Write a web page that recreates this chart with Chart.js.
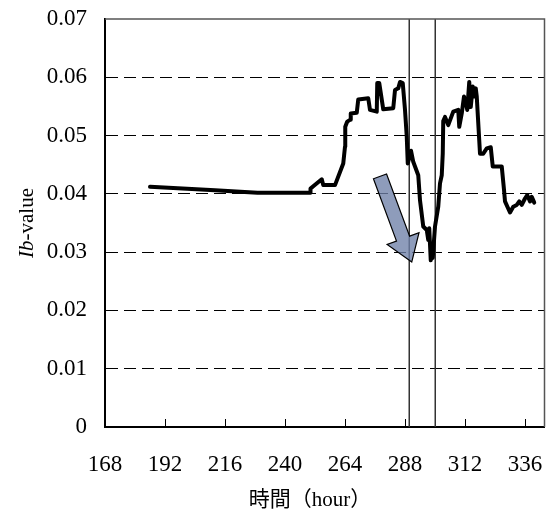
<!DOCTYPE html>
<html>
<head>
<meta charset="utf-8">
<script src="https://cdn.jsdelivr.net/npm/chart.js@4.4.0/dist/chart.umd.min.js"></script>
<style>
    body { margin: 0; background: #fff; }
    #wrap { width: 547px; height: 513px; }
</style>
</head>
<body>
<div id="wrap"><canvas id="ibChart"></canvas></div>
<script>
const hours = [
    186, 212, 229, 250, 250.2, 251.3, 254.7, 255.3, 260, 263.3,
    264, 264.1, 264.9, 266, 266.3, 268.7, 269.3, 273.3, 274, 276.7,
    276.9, 277.7, 279.3, 283.3, 284, 285.3, 286, 287.1, 288, 288.7,
    289.1, 290.4, 291.3, 293.3, 294, 295.3, 296.7, 297.3, 297.7, 298.3,
    298.7, 299.1, 300, 301.3, 302, 302.7, 303.1, 303.3, 304, 305.3,
    307.3, 309.3, 309.7, 310.7, 311.6, 312.4, 312.9, 313.7, 314.3, 315.1,
    315.7, 316.3, 316.7, 318, 319.3, 320.7, 322.3, 323.1, 326.7, 327.6,
    328, 330, 331.3, 332.7, 333.7, 334.7, 336, 336.9, 338, 338.7,
    339.7
];
const ibValues = [
    0.0412, 0.0406, 0.0402, 0.0402, 0.0409, 0.0413, 0.0425, 0.0415, 0.0415, 0.0452,
    0.0481, 0.0515, 0.0524, 0.0527, 0.0538, 0.0539, 0.0562, 0.0564, 0.0544, 0.0541,
    0.0590, 0.0590, 0.0545, 0.0547, 0.0578, 0.0581, 0.0592, 0.0590, 0.0544, 0.0498,
    0.0452, 0.0474, 0.0455, 0.0432, 0.0389, 0.0344, 0.0338, 0.0321, 0.0341, 0.0286,
    0.0309, 0.0290, 0.0344, 0.0378, 0.0418, 0.0432, 0.0469, 0.0525, 0.0532, 0.0518,
    0.0541, 0.0544, 0.0515, 0.0538, 0.0567, 0.0555, 0.0544, 0.0592, 0.0549, 0.0584,
    0.0567, 0.0581, 0.0567, 0.0469, 0.0469, 0.0478, 0.0480, 0.0447, 0.0447, 0.0407,
    0.0387, 0.0368, 0.0378, 0.0381, 0.0387, 0.0381, 0.0392, 0.0398, 0.0387, 0.0395,
    0.0385
];
const markerHours = [289.7, 300.1];
const xTickValues = [168, 192, 216, 240, 264, 288, 312, 336];
const yTickValues = [0, 0.01, 0.02, 0.03, 0.04, 0.05, 0.06, 0.07];
const yTickLabels = ["0", "0.01", "0.02", "0.03", "0.04", "0.05", "0.06", "0.07"];
const arrowStart = [278, 0.0430];
const arrowEnd = [290.7, 0.0283];

const serif = "'Liberation Serif', 'Times New Roman', 'Noto Sans CJK JP', serif";

const framePlugin = {
    id: "frame",
    afterDatasetsDraw(chart) {
        const { ctx, chartArea: a, scales: { x, y } } = chart;
        ctx.save();

        // arrow annotation
        const x0 = x.getPixelForValue(arrowStart[0]);
        const y0 = y.getPixelForValue(arrowStart[1]);
        const x1 = x.getPixelForValue(arrowEnd[0]);
        const y1 = y.getPixelForValue(arrowEnd[1]);
        const len = Math.hypot(x1 - x0, y1 - y0);
        const ux = (x1 - x0) / len, uy = (y1 - y0) / len;
        const nx = -uy, ny = ux;
        const shaft = 7, head = 17, headLen = 25;
        const bx = x1 - ux * headLen, by = y1 - uy * headLen;
        ctx.beginPath();
        ctx.moveTo(x0 + nx * shaft, y0 + ny * shaft);
        ctx.lineTo(bx + nx * shaft, by + ny * shaft);
        ctx.lineTo(bx + nx * head, by + ny * head);
        ctx.lineTo(x1, y1);
        ctx.lineTo(bx - nx * head, by - ny * head);
        ctx.lineTo(bx - nx * shaft, by - ny * shaft);
        ctx.lineTo(x0 - nx * shaft, y0 - ny * shaft);
        ctx.closePath();
        ctx.fillStyle = "rgba(110, 128, 168, 0.78)";
        ctx.fill();
        ctx.lineWidth = 1.2;
        ctx.strokeStyle = "#000";
        ctx.stroke();

        // top and right border
        ctx.strokeStyle = "#555";
        ctx.lineWidth = 1.5;
        ctx.beginPath();
        ctx.moveTo(a.left, a.top);
        ctx.lineTo(a.right, a.top);
        ctx.lineTo(a.right, a.bottom);
        ctx.stroke();

        // inside tick marks on x axis
        ctx.strokeStyle = "#000";
        ctx.lineWidth = 1;
        xTickValues.forEach(v => {
            const px = Math.round(x.getPixelForValue(v)) + 0.5;
            ctx.beginPath();
            ctx.moveTo(px, a.bottom);
            ctx.lineTo(px, a.bottom - 8);
            ctx.stroke();
        });

        // axis titles
        ctx.fillStyle = "#000";
        ctx.textBaseline = "middle";
        ctx.textAlign = "center";
        ctx.font = "21px " + serif;
        ctx.fillText("時間（hour）", x.getPixelForValue(250), 500);

        ctx.translate(27, (a.top + a.bottom) / 2);
        ctx.rotate(-Math.PI / 2);
        ctx.textAlign = "left";
        const italic = "italic 21px " + serif;
        const normal = "21px " + serif;
        ctx.font = italic;
        const w1 = ctx.measureText("Ib").width;
        ctx.font = normal;
        const w2 = ctx.measureText("-value").width;
        const start = -(w1 + w2) / 2;
        ctx.font = italic;
        ctx.fillText("Ib", start, 0);
        ctx.font = normal;
        ctx.fillText("-value", start + w1, 0);
        ctx.restore();
    }
};

const datasets = [{
    label: "Ib-value",
    data: hours.map((h, i) => ({ x: h, y: ibValues[i] })),
    borderColor: "#000",
    borderWidth: 4,
    pointRadius: 0,
    borderJoinStyle: "round",
    borderCapStyle: "round",
    tension: 0
}];

markerHours.forEach(h => {
    datasets.push({
        label: "marker",
        data: [{ x: h, y: 0 }, { x: h, y: 0.07 }],
        borderColor: "#333",
        borderWidth: 1.5,
        pointRadius: 0
    });
});

new Chart(document.getElementById("ibChart"), {
    type: "line",
    data: { datasets: datasets },
    options: {
        responsive: true,
        maintainAspectRatio: false,
        animation: false,
        layout: { padding: { top: 19, right: 2.5, left: 0, bottom: 0 } },
        plugins: {
            legend: { display: false },
            tooltip: { enabled: false }
        },
        scales: {
            x: {
                type: "linear",
                min: 168,
                max: 343.8,
                afterBuildTicks: scale => {
                    scale.ticks = xTickValues.map(v => ({ value: v }));
                },
                afterFit: scale => {
                    scale.height = 86;
                    scale.paddingLeft = 0;
                    scale.paddingRight = 0;
                },
                grid: { display: false, drawTicks: false },
                border: { color: "#000", width: 2 },
                ticks: {
                    padding: 24,
                    color: "#000",
                    maxRotation: 0,
                    font: { family: serif, size: 23 }
                }
            },
            y: {
                min: 0,
                max: 0.07,
                afterBuildTicks: scale => {
                    scale.ticks = yTickValues.map(v => ({ value: v }));
                },
                afterFit: scale => {
                    scale.width = 105;
                    scale.paddingTop = 0;
                    scale.paddingBottom = 0;
                },
                grid: {
                    drawTicks: false,
                    lineWidth: 1,
                    color: c => (c.tick && c.tick.value > 0.001 && c.tick.value < 0.069) ? "#000" : "rgba(0,0,0,0)"
                },
                border: { color: "#000", width: 2, dash: [12, 6] },
                ticks: {
                    padding: 18,
                    color: "#000",
                    font: { family: serif, size: 23 },
                    callback: (value, index) => yTickLabels[index]
                }
            }
        }
    },
    plugins: [framePlugin]
});
</script>
</body>
</html>
